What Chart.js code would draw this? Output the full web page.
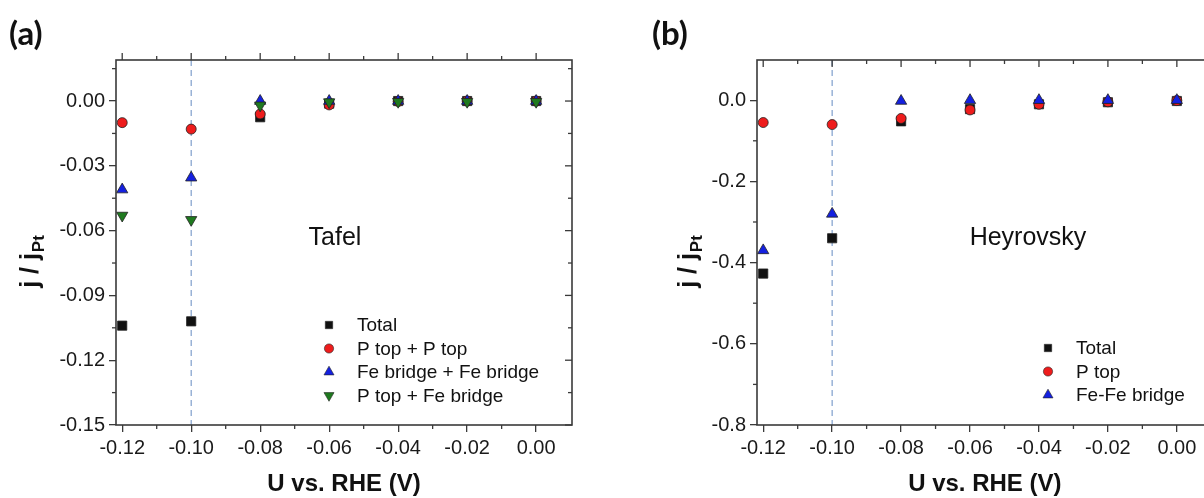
<!DOCTYPE html>
<html>
<head>
<meta charset="utf-8">
<script src="https://cdn.jsdelivr.net/npm/chart.js@4.4.1/dist/chart.umd.min.js"></script>
<style>
  html, body { margin: 0; padding: 0; background: #fff; overflow: hidden; }
  #wrap { position: relative; width: 1204px; height: 498px; overflow: hidden; }
  #boxA { position: absolute; left: 0; top: 0; width: 600px; height: 498px; }
  #boxB { position: absolute; left: 600px; top: 0; width: 604px; height: 498px; overflow: hidden; }
</style>
</head>
<body>
<div id="wrap">
  <div id="boxA"><canvas id="chartA" width="600" height="498"></canvas></div>
  <div id="boxB"><canvas id="chartB" width="620" height="498"></canvas></div>
</div>
<script>
// potentials (V vs RHE)
const potentials = [-0.12, -0.10, -0.08, -0.06, -0.04, -0.02, 0.00];

// (a) Tafel
const tafelTotal = [-0.104, -0.102, -0.0075, -0.0012, 0, 0, 0];
const tafelPtopPtop = [-0.010, -0.013, -0.006, -0.0018, -0.0002, 0, 0];
const tafelFeFe = [-0.041, -0.0355, 0, 0, 0, 0, 0];
const tafelPtopFe = [-0.053, -0.055, -0.002, -0.0005, -0.0003, -0.0003, -0.0003];

// (b) Heyrovsky
const heyTotal = [-0.427, -0.34, -0.052, -0.022, -0.01, -0.005, -0.002];
const heyPtop = [-0.055, -0.06, -0.045, -0.024, -0.01, -0.004, -0.001];
const heyFeFe = [-0.37, -0.28, -0.002, 0, 0, 0, 0];

// tick labels
const xTicks = [-0.12, -0.10, -0.08, -0.06, -0.04, -0.02, 0.00];
const xMinor = [-0.11, -0.09, -0.07, -0.05, -0.03, -0.01];
const yTicksA = [-0.15, -0.12, -0.09, -0.06, -0.03, 0.00];
const yMinorA = [-0.135, -0.105, -0.075, -0.045, -0.015, 0.015];
const yTicksB = [-0.8, -0.6, -0.4, -0.2, 0.0];
const yMinorB = [-0.7, -0.5, -0.3, -0.1];

const pts = ys => potentials.map((x, i) => ({ x: x, y: ys[i] }));

const black = '#111111', red = '#ee1c1c', blue = '#1420e0', green = '#1f7a1f';
const FONT = '"Liberation Sans", Arial, sans-serif';

function series(label, ys, color, style, rot, order, r, legR) {
  return {
    label: label, data: pts(ys), showLine: false,
    pointStyle: style, pointRotation: rot || 0,
    pointRadius: r, pointHoverRadius: r,
    backgroundColor: color, borderColor: '#222', pointBorderWidth: 0.8,
    order: order, legR: legR
  };
}

const axisColor = '#3a3a3a';

function framePlugin(cfg) {
  return {
    id: 'frame',
    beforeDatasetsDraw(chart) {
      const ctx = chart.ctx, a = chart.chartArea, xs = chart.scales.x;
      const px = xs.getPixelForValue(-0.10);
      ctx.save();
      ctx.strokeStyle = '#7f9fcc';
      ctx.lineWidth = 1.2;
      ctx.setLineDash([6, 4]);
      ctx.beginPath();
      ctx.moveTo(px, a.top);
      ctx.lineTo(px, a.bottom);
      ctx.stroke();
      ctx.restore();
    },
    afterDraw(chart) {
      const ctx = chart.ctx, a = chart.chartArea;
      const xs = chart.scales.x, ys = chart.scales.y;
      ctx.save();
      ctx.strokeStyle = axisColor;
      ctx.lineWidth = 1.6;
      ctx.strokeRect(a.left, a.top, a.right - a.left, a.bottom - a.top);
      ctx.lineWidth = 1.3;
      const tick = (x1, y1, x2, y2) => { ctx.beginPath(); ctx.moveTo(x1, y1); ctx.lineTo(x2, y2); ctx.stroke(); };
      const topDir = cfg.topOut ? -1 : 1;
      xTicks.forEach(v => { const p = xs.getPixelForValue(v); tick(p, a.top, p, a.top + topDir * 7); });
      xMinor.forEach(v => { const p = xs.getPixelForValue(v); tick(p, a.bottom, p, a.bottom + 4); tick(p, a.top, p, a.top + topDir * 4); });
      cfg.yTicks.forEach(v => { const p = ys.getPixelForValue(v); tick(a.right, p, a.right - 7, p); });
      cfg.yMinor.forEach(v => { const p = ys.getPixelForValue(v); tick(a.left, p, a.left - 4, p); tick(a.right, p, a.right - 4, p); });

      // panel letter
      ctx.fillStyle = '#111';
      ctx.font = 'bold 33px Lato, "Liberation Sans", sans-serif';
      ctx.textAlign = 'left';
      ctx.textBaseline = 'alphabetic';
      ctx.fillText(cfg.letter, cfg.letterX, 45);

      // mechanism label
      ctx.font = '25px ' + FONT;
      ctx.textAlign = 'center';
      ctx.textBaseline = 'middle';
      ctx.fillText(cfg.mech, cfg.mechX, 238);

      // x title
      ctx.font = 'bold 24px ' + FONT;
      ctx.fillText('U vs. RHE (V)', (a.left + a.right) / 2, 484);

      // y title with subscript
      ctx.save();
      ctx.translate(cfg.yTitleX, 262);
      ctx.rotate(-Math.PI / 2);
      ctx.textBaseline = 'alphabetic';
      ctx.textAlign = 'left';
      const main = 'j / j', sub = 'Pt';
      ctx.font = 'bold 25px ' + FONT;
      const w1 = ctx.measureText(main).width;
      ctx.font = 'bold 17px ' + FONT;
      const w2 = ctx.measureText(sub).width;
      const start = -(w1 + w2) / 2;
      ctx.font = 'bold 25px ' + FONT;
      ctx.fillText(main, start, 6);
      ctx.font = 'bold 17px ' + FONT;
      ctx.fillText(sub, start + w1 + 1, 12);
      ctx.restore();

      // legend
      ctx.font = '19px ' + FONT;
      ctx.textAlign = 'left';
      ctx.textBaseline = 'middle';
      chart.data.datasets.forEach((d, i) => {
        const y = cfg.legY + i * 23.5;
        ctx.save();
        ctx.fillStyle = d.backgroundColor;
        ctx.strokeStyle = '#222';
        ctx.lineWidth = 0.6;
        Chart.helpers.drawPoint(ctx, { pointStyle: d.pointStyle, rotation: d.pointRotation, radius: d.legR, borderWidth: 0.6 }, cfg.legX, y);
        ctx.restore();
        ctx.fillStyle = '#111';
        ctx.fillText(d.label, cfg.legX + 28, y + 1);
      });
      ctx.restore();
    }
  };
}

function makeChart(id, datasets, yMin, yMax, yTicks, yMinor, yDigits, pad, cfg) {
  cfg.yTicks = yTicks;
  cfg.yMinor = yMinor;
  return new Chart(document.getElementById(id), {
    type: 'scatter',
    data: { datasets: datasets },
    options: {
      responsive: false,
      animation: false,
      layout: { padding: pad },
      plugins: { legend: { display: false }, tooltip: { enabled: false } },
      scales: {
        x: {
          type: 'linear', min: -0.1218, max: 0.0104,
          afterBuildTicks: s => { s.ticks = xTicks.map(v => ({ value: v })); },
          afterFit: s => { s.height = 73; },
          grid: { display: true, drawOnChartArea: false, drawTicks: true, tickLength: 7, color: axisColor, lineWidth: 1.3 },
          border: { display: false },
          ticks: {
            padding: 4, color: '#1a1a1a', maxRotation: 0,
            font: { family: FONT, size: 20 },
            callback: v => v.toFixed(2)
          }
        },
        y: {
          type: 'linear', min: yMin, max: yMax,
          afterBuildTicks: s => { s.ticks = yTicks.map(v => ({ value: v })); },
          afterFit: s => { s.width = cfg.yAxisW; },
          grid: { display: true, drawOnChartArea: false, drawTicks: true, tickLength: 7, color: axisColor, lineWidth: 1.3 },
          border: { display: false },
          ticks: {
            padding: 4, color: '#1a1a1a',
            font: { family: FONT, size: 20 },
            callback: v => v.toFixed(yDigits)
          }
        }
      }
    },
    plugins: [framePlugin(cfg)]
  });
}

makeChart('chartA', [
  series('Total', tafelTotal, black, 'rect', 0, 4, 6.5, 5.2),
  series('P top + P top', tafelPtopPtop, red, 'circle', 0, 3, 5, 4.6),
  series('Fe bridge + Fe bridge', tafelFeFe, blue, 'triangle', 0, 2, 6.5, 5.8),
  series('P top + Fe bridge', tafelPtopFe, green, 'triangle', 180, 1, 6.5, 5.8)
], -0.15, 0.019, yTicksA, yMinorA, 2, { top: 60, right: 28, left: 0, bottom: 0 },
  { topOut: true, letter: '(a)', letterX: 9, mech: 'Tafel', mechX: 335, yTitleX: 32, legX: 329, legY: 325, yAxisW: 116 });

makeChart('chartB', [
  series('Total', heyTotal, black, 'rect', 0, 3, 6.5, 5.2),
  series('P top', heyPtop, red, 'circle', 0, 2, 5, 4.6),
  series('Fe-Fe bridge', heyFeFe, blue, 'triangle', 0, 1, 6.5, 5.8)
], -0.8, 0.099, yTicksB, yMinorB, 1, { top: 60, right: 7, left: 0, bottom: 0 },
  { topOut: false, letter: '(b)', letterX: 52, mech: 'Heyrovsky', mechX: 428, yTitleX: 90, legX: 448, legY: 348, yAxisW: 157 });
</script>
</body>
</html>
